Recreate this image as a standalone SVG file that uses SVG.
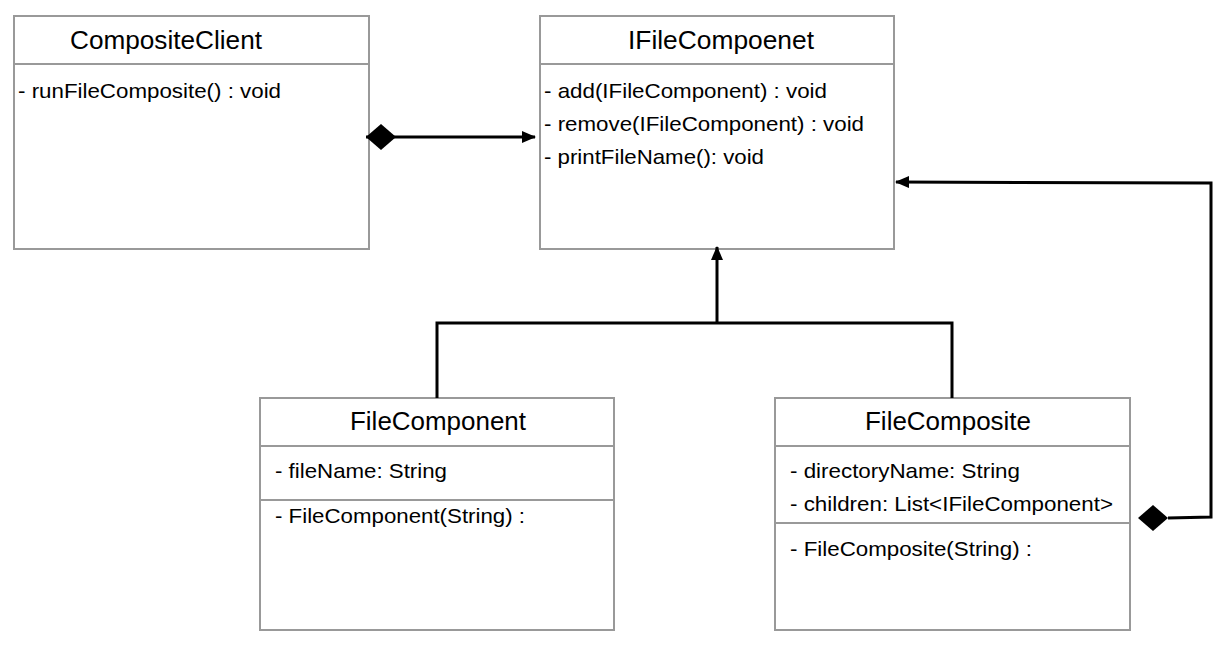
<svg xmlns="http://www.w3.org/2000/svg" width="1229" height="647" viewBox="0 0 1229 647">
<style>
.box{fill:#fff;stroke:#999;stroke-width:2}
.sep{stroke:#999;stroke-width:2}
.title{font-family:"Liberation Sans",Arial,sans-serif;font-size:25px;fill:#000}
.body{font-family:"Liberation Sans",Arial,sans-serif;font-size:21px;fill:#000}
.edge{fill:none;stroke:#000;stroke-width:3}
</style>
<defs>
<marker id="arrow" markerWidth="14" markerHeight="12" refX="13" refY="6" orient="auto" markerUnits="userSpaceOnUse">
<path d="M0,0 L14,6 L0,12 Z" fill="#000"/>
</marker>
</defs>
<rect width="1229" height="647" fill="#fff"/>
<g id="CompositeClient">
<rect class="box" x="14" y="16" width="355" height="233"/>
<line class="sep" x1="14" y1="64" x2="369" y2="64"/>
<text class="title" x="70" y="49" textLength="192" lengthAdjust="spacingAndGlyphs">CompositeClient</text>
<text class="body" x="18" y="98" textLength="263" lengthAdjust="spacingAndGlyphs">- runFileComposite() : void</text>
</g>
<g id="IFileCompoenet">
<rect class="box" x="540" y="16" width="354" height="233"/>
<line class="sep" x1="540" y1="64" x2="894" y2="64"/>
<text class="title" x="628" y="49" textLength="186" lengthAdjust="spacingAndGlyphs">IFileCompoenet</text>
<text class="body" x="544" y="98" textLength="283" lengthAdjust="spacingAndGlyphs">- add(IFileComponent) : void</text>
<text class="body" x="544" y="131" textLength="320" lengthAdjust="spacingAndGlyphs">- remove(IFileComponent) : void</text>
<text class="body" x="544" y="164" textLength="220" lengthAdjust="spacingAndGlyphs">- printFileName(): void</text>
</g>
<g id="FileComponent">
<rect class="box" x="260" y="398" width="354" height="232"/>
<line class="sep" x1="260" y1="446" x2="614" y2="446"/>
<line class="sep" x1="260" y1="500" x2="614" y2="500"/>
<text class="title" x="350" y="430" textLength="176" lengthAdjust="spacingAndGlyphs">FileComponent</text>
<text class="body" x="275" y="478" textLength="172" lengthAdjust="spacingAndGlyphs">- fileName: String</text>
<text class="body" x="275" y="523" textLength="250" lengthAdjust="spacingAndGlyphs">- FileComponent(String) :</text>
</g>
<g id="FileComposite">
<rect class="box" x="775" y="398" width="355" height="232"/>
<line class="sep" x1="775" y1="446" x2="1130" y2="446"/>
<line class="sep" x1="775" y1="523" x2="1130" y2="523"/>
<text class="title" x="865" y="430" textLength="166" lengthAdjust="spacingAndGlyphs">FileComposite</text>
<text class="body" x="790" y="478" textLength="230" lengthAdjust="spacingAndGlyphs">- directoryName: String</text>
<text class="body" x="790" y="511" textLength="323" lengthAdjust="spacingAndGlyphs">- children: List&lt;IFileComponent&gt;</text>
<text class="body" x="790" y="556" textLength="242" lengthAdjust="spacingAndGlyphs">- FileComposite(String) :</text>
</g>
<g id="connectors">
<path class="edge" d="M366,137 L396,137 L535,137" marker-end="url(#arrow)"/>
<path d="M366,137 L381,124 L396,137 L381,150 Z" fill="#000"/>
<path class="edge" d="M437,398 L437,323 L952,323 L952,398"/>
<path class="edge" d="M717,323 L717,247" marker-end="url(#arrow)"/>
<path class="edge" d="M1168,518 L1211,517 L1211,183 L896,182" marker-end="url(#arrow)"/>
<path d="M1138,518 L1153,505 L1168,518 L1153,531 Z" fill="#000"/>
</g>
</svg>
